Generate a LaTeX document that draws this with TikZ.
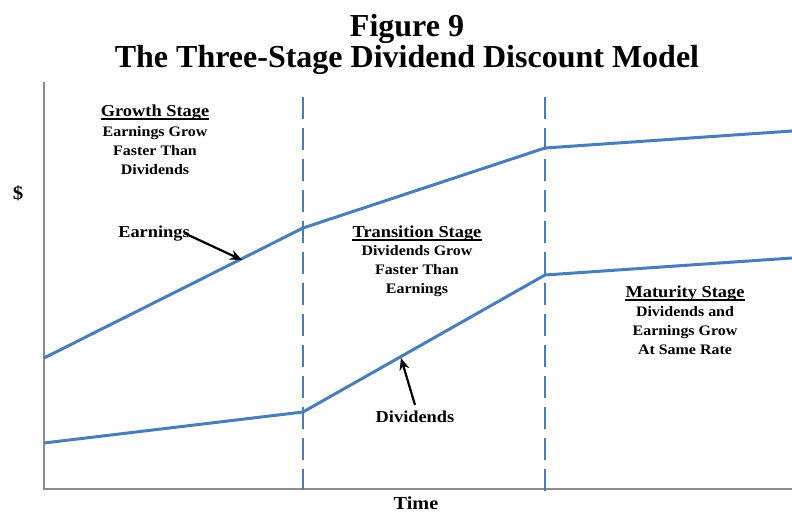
\documentclass[tikz,border=0pt]{standalone}
\usepackage{fontspec}
\setmainfont{Liberation Serif}[FakeStretch=1.1]
\newfontfamily\titlefont{Liberation Serif}
\usetikzlibrary{arrows.meta}
\definecolor{lineblue}{HTML}{4A7EBB}
\definecolor{axisgray}{HTML}{8C8C8C}
\tikzset{
  curve/.style={draw=lineblue, line width=3pt, line join=round},
  divider/.style={draw=lineblue, line width=2.4pt, dash pattern=on 22pt off 9pt},
  axisline/.style={draw=axisgray, line width=1.2pt},
  pointer/.style={draw=black, line width=2.2pt, -{Stealth[length=12pt,width=10pt]}},
  txt/.style={inner sep=0pt, anchor=base, font=\bfseries\fontsize{14.5}{17}\selectfont},
  head/.style={inner sep=0pt, anchor=base, font=\bfseries\fontsize{16.7}{19}\selectfont},
  title/.style={inner sep=0pt, anchor=base, font=\titlefont\bfseries\fontsize{32}{36}\selectfont},
  uline/.style={draw=black, line width=1.1pt}
}
\begin{document}
\begin{tikzpicture}[x=1pt, y=-1pt]
\fill[white] (0,0) rectangle (792,512);
\useasboundingbox (0,0) rectangle (792,512);

% title
\node[title] (t1) at (407,36) {Figure 9};
\node[title] (t2) at (407,67) {The Three-Stage Dividend Discount Model};

% axes
\coordinate (ytop) at (44,82);
\coordinate (orig) at (44,489);
\coordinate (xend) at (792,489);
\draw[axisline] (ytop) -- (orig) -- (xend);

% stage dividers
\coordinate (v1t) at (303,97);
\coordinate (v1b) at (303,490);
\coordinate (v2t) at (545,97);
\coordinate (v2b) at (545,493);
\draw[divider] (v1t) -- (v1b);
\draw[divider] (v2t) -- (v2b);

% earnings and dividends
\coordinate (E0) at (44,358);
\coordinate (E1) at (303,228);
\coordinate (E2) at (545,148);
\coordinate (E3) at (792,131);
\coordinate (D0) at (44,443);
\coordinate (D1) at (303,412);
\coordinate (D2) at (545,275);
\coordinate (D3) at (792,258);
\draw[curve] (E0) -- (E1) -- (E2) -- (E3);
\draw[curve] (D0) -- (D1) -- (D2) -- (D3);

% y label
\node[head, font=\bfseries\fontsize{19}{21}\selectfont] (dollar) at (18,199) {\$};

% growth stage
\node[head] (gh) at (155,116) {Growth Stage};
\draw[uline] ([yshift=-3pt]gh.base west) -- ([yshift=-3pt]gh.base east);
\node[txt] (g1) at (155,136) {Earnings Grow};
\node[txt] (g2) at (155,155) {Faster Than};
\node[txt] (g3) at (155,174) {Dividends};

% transition stage
\node[head] (th) at (417,237) {Transition Stage};
\draw[uline] ([yshift=-3pt]th.base west) -- ([yshift=-3pt]th.base east);
\node[txt] (tr1) at (417,255) {Dividends Grow};
\node[txt] (tr2) at (417,274) {Faster Than};
\node[txt] (tr3) at (417,293) {Earnings};

% maturity stage
\node[head] (mh) at (685,297) {Maturity Stage};
\draw[uline] ([yshift=-3pt]mh.base west) -- ([yshift=-3pt]mh.base east);
\node[txt] (m1) at (685,316) {Dividends and};
\node[txt] (m2) at (685,335) {Earnings Grow};
\node[txt] (m3) at (685,354) {At Same Rate};

% curve labels and pointers
\node[head] (elab) at (154,237) {Earnings};
\coordinate (etip) at (242,260);
\coordinate (estart) at (184,233);
\draw[pointer] (estart) -- (etip);

\node[head] (dlab) at (415,422) {Dividends};
\coordinate (dstart) at (415,405);
\coordinate (dtip) at (401,358);
\draw[pointer] (dstart) -- (dtip);

% x label
\node[head, font=\bfseries\fontsize{18.4}{21}\selectfont] (time) at (416,509) {Time};
\end{tikzpicture}
\end{document}
